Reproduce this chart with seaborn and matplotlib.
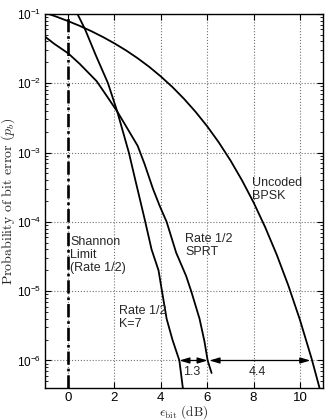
import numpy as np
import pandas as pd
import matplotlib
matplotlib.use("Agg")
import matplotlib.pyplot as plt
import matplotlib.ticker as mtick
import seaborn as sns

# ---- data ----
bpsk_eb = [-1, -0.5, 0, 0.5, 1, 1.5, 2, 2.5, 3, 3.5, 4, 4.5, 5, 5.5, 6, 6.5,
           7, 7.5, 8, 8.5, 9, 9.5, 10, 10.5, 11]
bpsk_pb = [0.104, 0.0909, 0.0786, 0.0671, 0.0563, 0.0464, 0.0375, 0.0297,
           0.0229, 0.0172, 0.0125, 0.0088, 5.95e-3, 3.86e-3, 2.39e-3, 1.40e-3,
           7.73e-4, 3.98e-4, 1.91e-4, 8.4e-5, 3.36e-5, 1.21e-5, 3.87e-6,
           1.08e-6, 2.6e-7]

k7_eb = [0.4, 0.73, 1.2, 1.72, 2.12, 2.62, 2.9, 3.1, 3.3, 3.6, 3.9, 4.05,
         4.25, 4.5, 4.8, 4.95]
k7_pb = [0.1, 0.06, 0.025, 0.01, 3.9e-3, 1.0e-3, 4e-4, 2.1e-4, 1.1e-4,
         4e-5, 2.0e-5, 1.0e-5, 4e-6, 2e-6, 1.0e-6, 4e-7]

sprt_eb = [-1, -0.6, 0, 0.5, 1.23, 1.7, 2.12, 2.6, 3.0, 3.3, 3.66, 3.95,
           4.25, 4.66, 5.09, 5.31, 5.67, 5.88, 6.02, 6.19]
sprt_pb = [0.047, 0.037, 0.027, 0.019, 0.0107, 6.3e-3, 3.9e-3, 2.1e-3,
           1.25e-3, 6.8e-4, 3.0e-4, 1.7e-4, 1.0e-4, 3.6e-5, 1.66e-5, 1.0e-5,
           4.0e-6, 1.9e-6, 1.0e-6, 6.6e-7]

shannon_x = 0.0

# gap arrows at pb = 1e-6: (start, end, label)
gap_level = 1e-6
gaps = [(4.8, 6.02, "1.3"), (6.1, 10.45, "4.4")]

x_ticks = [0, 2, 4, 6, 8, 10]
y_ticks = [1e-6, 1e-5, 1e-4, 1e-3, 1e-2, 1e-1]

# ---- style ----
sns.set_style("ticks")
plt.rcParams['font.family'] = ['Liberation Sans', 'DejaVu Sans']

fig = plt.figure(figsize=(3.28, 4.20), dpi=100)
ax = fig.add_axes([0.137, 0.076, 0.848, 0.891])

curves = pd.concat([
    pd.DataFrame({'eb': bpsk_eb, 'pb': bpsk_pb, 'curve': 'Uncoded BPSK'}),
    pd.DataFrame({'eb': k7_eb, 'pb': k7_pb, 'curve': 'Rate 1/2 K=7'}),
    pd.DataFrame({'eb': sprt_eb, 'pb': sprt_pb, 'curve': 'Rate 1/2 SPRT'}),
])
sns.lineplot(data=curves, x='eb', y='pb', units='curve', estimator=None,
             sort=False, color='black', lw=1.3, ax=ax, legend=False)

ax.axvline(shannon_x, color='black', lw=1.9, ls=(0, (5, 1.5, 1, 1.5)))

ax.set_yscale('log')
ax.set_xlim(-1, 11)
ax.set_ylim(4e-7, 1e-1)
ax.set_xticks(x_ticks)
ax.set_xticklabels([str(t) for t in x_ticks])
ax.set_yticks(y_ticks)
ax.yaxis.set_minor_locator(mtick.LogLocator(base=10, subs=np.arange(2, 10)))
ax.yaxis.set_minor_formatter(mtick.NullFormatter())

ax.grid(True, which='major', ls=':', color='0.45', lw=0.8)
ax.tick_params(which='both', direction='in', top=True, right=True,
               colors='black')
ax.tick_params(axis='x', labelsize=9.5, pad=3)
ax.tick_params(axis='y', labelsize=8.5, pad=2.5)
ax.tick_params(which='major', length=4, width=0.8)
ax.tick_params(which='minor', length=2, width=0.6)
for s in ax.spines.values():
    s.set_linewidth(1.0)
    s.set_color('black')

ax.set_xlabel(r"$\epsilon_{\rm bit}$ (dB)", fontsize=9.5, family='cmr10',
              math_fontfamily='cm', labelpad=-1)
ax.set_ylabel(r"Probability of bit error ($p_b$)", fontsize=10,
              family='cmr10', math_fontfamily='cm')
ax.yaxis.set_label_coords(-0.134, 0.5)
ax.yaxis.label.set_va('center')

# ---- annotations ----
txt = dict(fontsize=9, va='top', ha='left', linespacing=1.1)
ax.text(7.95, 4.4e-4, "Uncoded\nBPSK", **txt)
ax.text(0.08, 6.3e-5, "Shannon\nLimit\n(Rate 1/2)", **txt)
ax.text(5.05, 6.8e-5, "Rate 1/2\nSPRT", **txt)
ax.text(2.2, 6.3e-6, "Rate 1/2\nK=7", **txt)

for x0, x1, lab in gaps:
    ax.annotate("", xy=(x0, gap_level), xytext=(x1, gap_level),
                arrowprops=dict(arrowstyle='<|-|>,head_length=0.6,head_width=0.18',
                                color='black', lw=0.9, shrinkA=0, shrinkB=0))
    ax.text((x0 + x1) / 2 - 0.1, gap_level * 0.82, lab, fontsize=9,
            ha='center', va='top')

fig.savefig("out.png", dpi=100)
